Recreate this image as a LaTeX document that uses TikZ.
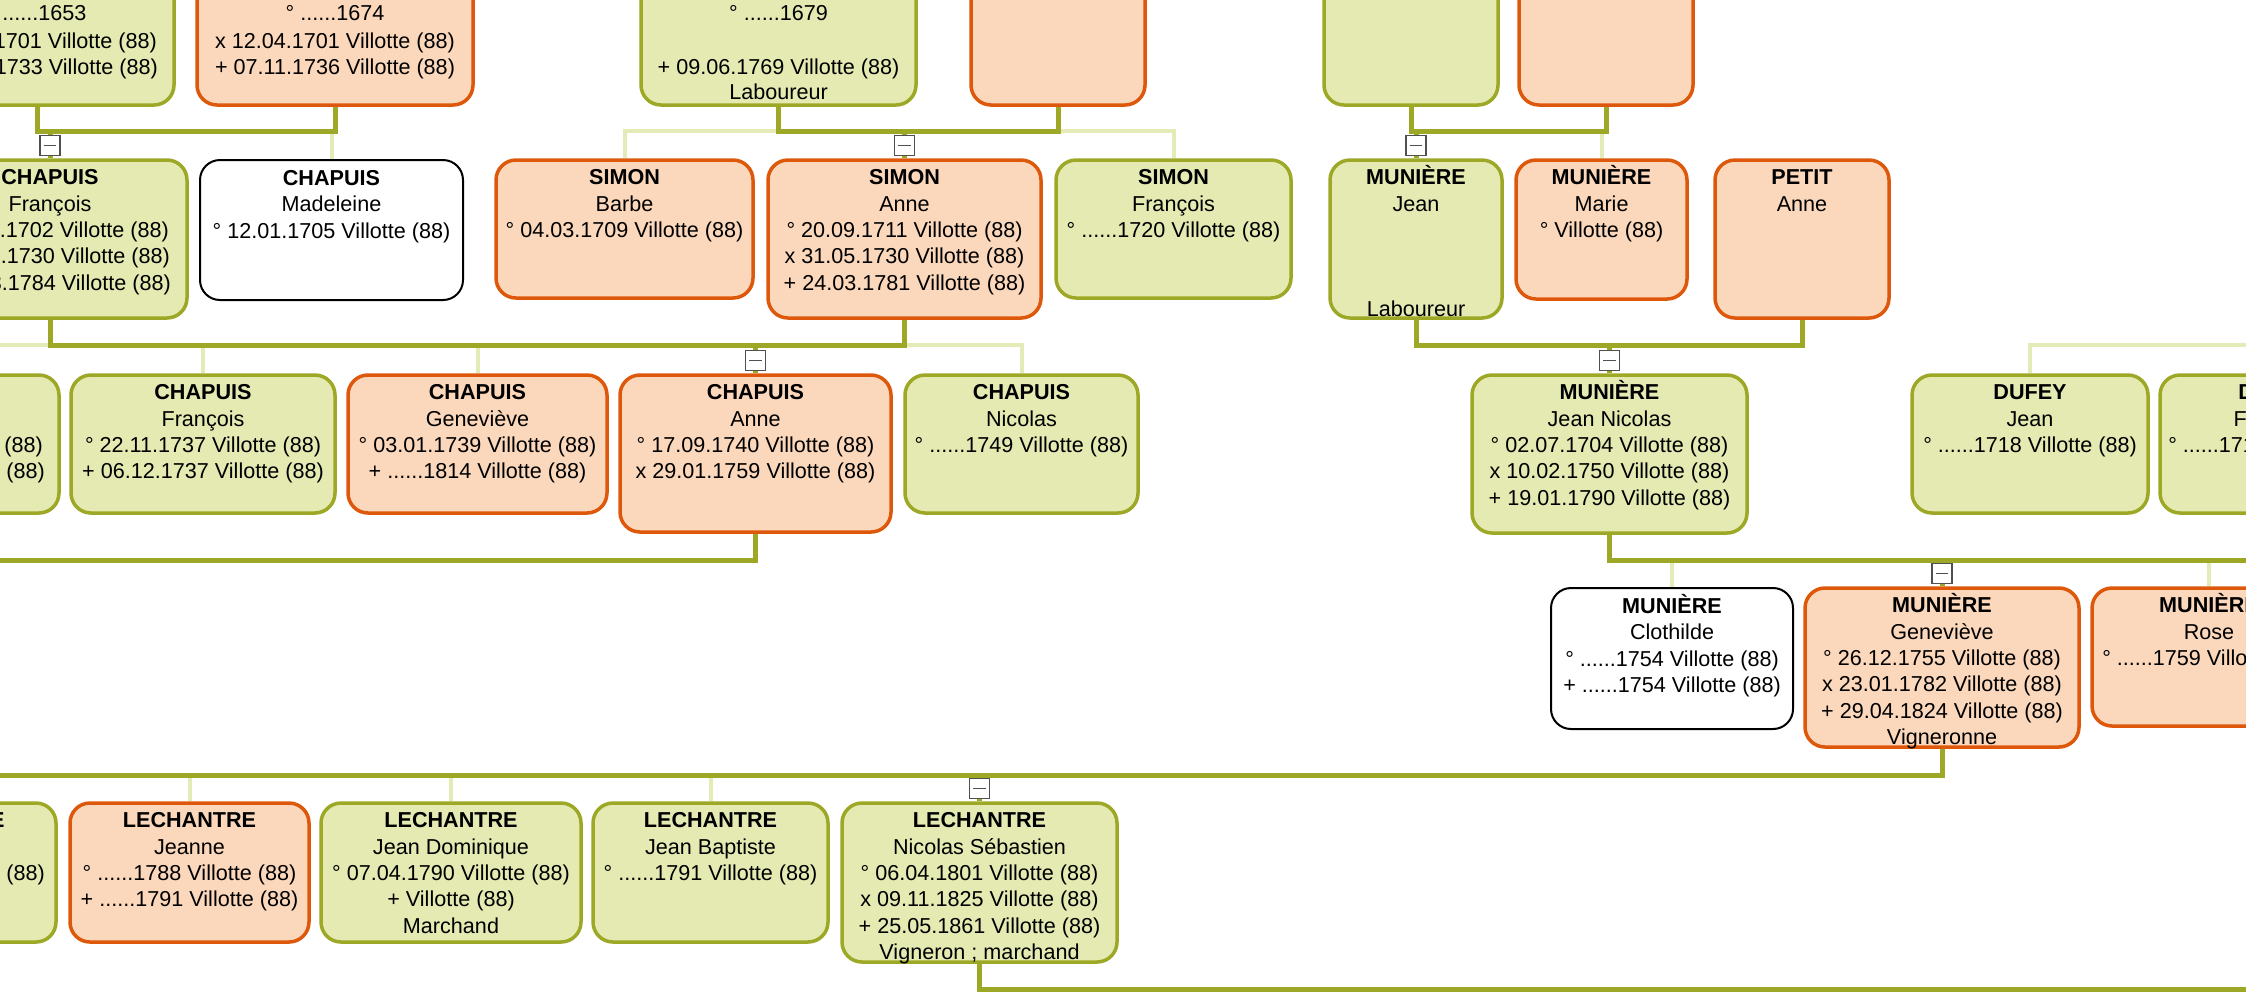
\documentclass[tikz,border=0pt]{standalone}
\usepackage{fontspec}
\setmainfont{Liberation Sans}
\usetikzlibrary{fit,calc,backgrounds}
\definecolor{grfill}{RGB}{228,234,178}
\definecolor{grline}{RGB}{156,168,38}
\definecolor{orfill}{RGB}{251,216,188}
\definecolor{orline}{RGB}{222,88,12}
\definecolor{paleline}{RGB}{229,235,182}
\definecolor{btngrey}{RGB}{80,80,80}
\newcommand\ptxt{\fontsize{10.8pt}{13.2pt}\selectfont}
\newcommand\fs{\rule{0pt}{10.5pt}}
\newcommand\sn[1]{\fs\textbf{#1}}
\newcommand\pbox[6]{\node[#2, fit={(#3,#4) (#5,#6)}] (#1) {};}
\newcommand\person[7]{\pbox{#1}{#2}{#3}{#4}{#5}{#6}\node[txt] (#1-t) at ($(#1.north)+(0,5)$) {#7};}
\newcommand\tog[1]{\node[togbtn] (#1-b) at ($(#1.north)+(0,-13)$) {};}
\begin{document}
\begin{tikzpicture}[x=0.5pt,y=-0.5pt,
 pbox/.style={inner sep=0pt, rounded corners=10pt, line width=1.75pt},
 gbox/.style={pbox, draw=grline, fill=grfill},
 obox/.style={pbox, draw=orline, fill=orfill},
 wbox/.style={pbox, draw=black, fill=white, line width=1pt},
 txt/.style={anchor=north, inner sep=0pt, align=center, font=\ptxt},
 fam/.style={draw=grline, line width=2.5pt},
 kid/.style={draw=paleline, line width=2pt},
 togbtn/.style={draw=btngrey, fill=white, line width=0.6pt, minimum width=10pt, minimum height=10pt, inner sep=0pt,
   path picture={\draw[btngrey, line width=0.6pt] ([xshift=-3.2pt]path picture bounding box.center) -- ([xshift=3.2pt]path picture bounding box.center);}},
]
\useasboundingbox (0,0) rectangle (2246,993);
\clip (0,0) rectangle (2246,993);

% ---------- row 0 ----------
\coordinate (top0) at (0,-1);
\pbox{A0}{gbox}{-100}{-60}{174}{105}
\node[txt] (A0-t) at (A0.south |- top0) {\fs° ......1653\\[0.6pt]x 12.04.1701 Villotte (88)\\+ 21.03.1733 Villotte (88)};
\pbox{B0}{obox}{197}{-60}{473}{105}
\node[txt] (B0-t) at (B0.south |- top0) {\fs° ......1674\\[0.6pt]x 12.04.1701 Villotte (88)\\+ 07.11.1736 Villotte (88)};
\pbox{C0}{gbox}{641}{-60}{916}{105}
\node[txt] (C0-t) at (C0.south |- top0) {\fs° ......1679\\[0.6pt]~\\+ 09.06.1769 Villotte (88)\\[-0.8pt]Laboureur};
\pbox{D0}{obox}{971}{-60}{1145}{105}
\pbox{E0}{gbox}{1324}{-60}{1498}{105}
\pbox{F0}{obox}{1519}{-60}{1693}{105}

% ---------- row 1 ----------
\person{F1}{gbox}{-87}{160}{187}{318}{\sn{CHAPUIS}\\François\\° 14.05.1702 Villotte (88)\\x 31.05.1730 Villotte (88)\\+ 13.03.1784 Villotte (88)}
\person{Mad}{wbox}{200}{160}{463}{300}{\sn{CHAPUIS}\\Madeleine\\° 12.01.1705 Villotte (88)}
\person{Barbe}{obox}{496}{160}{753}{298}{\sn{SIMON}\\Barbe\\° 04.03.1709 Villotte (88)}
\person{Anne1}{obox}{768}{160}{1041}{318}{\sn{SIMON}\\Anne\\° 20.09.1711 Villotte (88)\\x 31.05.1730 Villotte (88)\\+ 24.03.1781 Villotte (88)}
\person{SF}{gbox}{1056}{160}{1291}{298}{\sn{SIMON}\\François\\° ......1720 Villotte (88)}
\person{MJ}{gbox}{1330}{160}{1502}{318}{\sn{MUNIÈRE}\\Jean\\~\\~\\~\\Laboureur}
\person{Marie}{obox}{1516}{160}{1687}{299}{\sn{MUNIÈRE}\\Marie\\° Villotte (88)}
\person{Petit}{obox}{1715}{160}{1889}{318}{\sn{PETIT}\\Anne}

% ---------- row 2 ----------
\person{G2}{gbox}{-211}{375}{59}{513}{\fs~\\~\\° 10.10.1735 Villotte (88)\\+ 15.10.1735 Villotte (88)}
\person{F2}{gbox}{71}{375}{335}{513}{\sn{CHAPUIS}\\François\\° 22.11.1737 Villotte (88)\\+ 06.12.1737 Villotte (88)}
\person{Gen2}{obox}{348}{375}{607}{513}{\sn{CHAPUIS}\\Geneviève\\° 03.01.1739 Villotte (88)\\+ ......1814 Villotte (88)}
\person{Anne2}{obox}{620}{375}{891}{532}{\sn{CHAPUIS}\\Anne\\° 17.09.1740 Villotte (88)\\x 29.01.1759 Villotte (88)}
\person{Nic2}{gbox}{905}{375}{1138}{513}{\sn{CHAPUIS}\\Nicolas\\° ......1749 Villotte (88)}
\person{JN}{gbox}{1472}{375}{1747}{533}{\sn{MUNIÈRE}\\Jean Nicolas\\° 02.07.1704 Villotte (88)\\x 10.02.1750 Villotte (88)\\+ 19.01.1790 Villotte (88)}
\person{DJ}{gbox}{1912}{375}{2148}{513}{\sn{DUFEY}\\Jean\\° ......1718 Villotte (88)}
\person{DF}{gbox}{2160}{375}{2390}{513}{\sn{DUFEY}\\François\\° ......1716 Villotte (88)}

% ---------- row 3 ----------
\person{Clo}{wbox}{1551}{588}{1793}{729}{\sn{MUNIÈRE}\\Clothilde\\° ......1754 Villotte (88)\\+ ......1754 Villotte (88)}
\person{Gen3}{obox}{1805}{588}{2079}{747}{\sn{MUNIÈRE}\\Geneviève\\° 26.12.1755 Villotte (88)\\x 23.01.1782 Villotte (88)\\+ 29.04.1824 Villotte (88)\\Vigneronne}
\person{Rose}{obox}{2092}{588}{2326}{726}{\sn{MUNIÈRE}\\Rose\\° ......1759 Villotte (88)}

% ---------- row 4 ----------
\person{H4}{gbox}{-180}{803}{56}{942}{\sn{LECHANTRE}\\~\\° ......1786 Villotte (88)}
\person{Jeanne}{obox}{70}{803}{309}{942}{\sn{LECHANTRE}\\Jeanne\\° ......1788 Villotte (88)\\+ ......1791 Villotte (88)}
\person{JD}{gbox}{321}{803}{581}{942}{\sn{LECHANTRE}\\Jean Dominique\\° 07.04.1790 Villotte (88)\\+ Villotte (88)\\Marchand}
\person{JB}{gbox}{593}{803}{828}{942}{\sn{LECHANTRE}\\Jean Baptiste\\° ......1791 Villotte (88)}
\person{NS}{gbox}{842}{803}{1117}{962}{\sn{LECHANTRE}\\Nicolas Sébastien\\° 06.04.1801 Villotte (88)\\x 09.11.1825 Villotte (88)\\+ 25.05.1861 Villotte (88)\\Vigneron ; marchand}

% ---------- connectors ----------
\coordinate (l1) at (0,131);
\coordinate (l4) at (0,345);
\coordinate (l8) at (0,560);
\coordinate (l9) at (0,775);
\coordinate (offL7) at (-60,560);
\coordinate (offR8) at (2320,560);
\coordinate (offL9) at (-60,775);
\coordinate (offR10) at (2320,989);
\begin{scope}[on background layer]
 % pale child links
 \draw[kid] (Mad.north) -- (Mad.north |- l1);
 \draw[kid] (Barbe.north) |- (SF.north |- l1) -- (SF.north);
 \draw[kid] (Marie.north) -- (Marie.north |- l1);
 \draw[kid] (G2.north) |- (Nic2.north |- l4) -- (Nic2.north);
 \draw[kid] (F2.north) -- (F2.north |- l4);
 \draw[kid] (Gen2.north) -- (Gen2.north |- l4);
 \draw[kid] (DJ.north) |- (DF.north |- l4) -- (DF.north);
 \draw[kid] (Clo.north) |- (Rose.north |- l8) -- (Rose.north);
 \draw[kid] (H4.north) |- (NS.north |- l9);
 \draw[kid] (Jeanne.north) -- (Jeanne.north |- l9);
 \draw[kid] (JD.north) -- (JD.north |- l9);
 \draw[kid] (JB.north) -- (JB.north |- l9);
 % couples
 \draw[fam] (A0.south) |- (B0.south |- l1) -- (B0.south);
 \draw[fam] (C0.south) |- (D0.south |- l1) -- (D0.south);
 \draw[fam] (E0.south) |- (F0.south |- l1) -- (F0.south);
 \draw[fam] (F1.south) |- (Anne1.south |- l4) -- (Anne1.south);
 \draw[fam] (MJ.south) |- (Petit.south |- l4) -- (Petit.south);
 \draw[fam] (Anne2.south) |- (offL7);
 \draw[fam] (JN.south) |- (offR8);
 \draw[fam] (Gen3.south) |- (offL9);
 \draw[fam] (NS.south) |- (offR10);
 % main child links
 \draw[fam] (F1.north) -- (F1.north |- l1);
 \draw[fam] (Anne1.north) -- (Anne1.north |- l1);
 \draw[fam] (MJ.north) -- (MJ.north |- l1);
 \draw[fam] (Anne2.north) -- (Anne2.north |- l4);
 \draw[fam] (JN.north) -- (JN.north |- l4);
 \draw[fam] (Gen3.north) -- (Gen3.north |- l8);
 \draw[fam] (NS.north) -- (NS.north |- l9);
\end{scope}
% toggle buttons
\tog{F1}\tog{Anne1}\tog{MJ}\tog{Anne2}\tog{JN}\tog{Gen3}\tog{NS}
\end{tikzpicture}
\end{document}
